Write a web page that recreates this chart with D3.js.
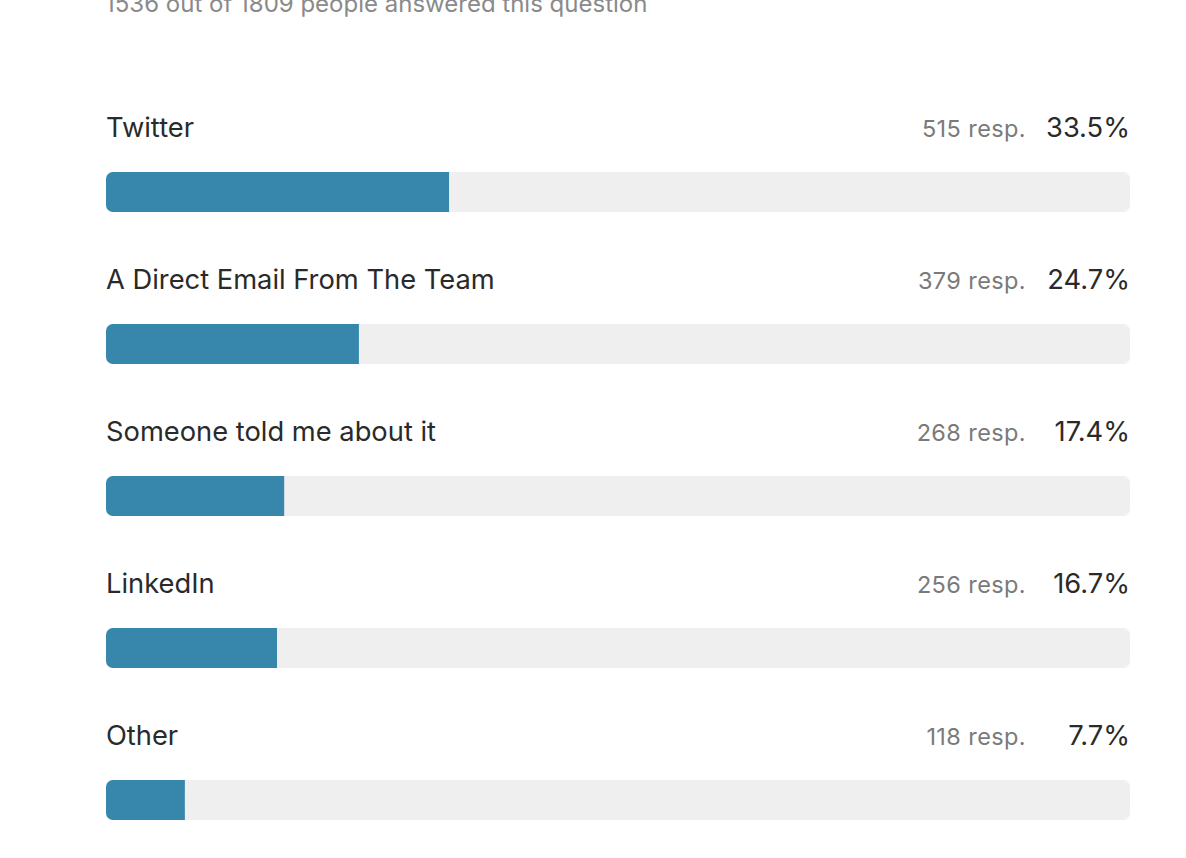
<!DOCTYPE html>
<html><head><meta charset="utf-8">
<script src="https://cdn.jsdelivr.net/npm/d3@7"></script>
<style>html,body{margin:0;padding:0;background:#fff;overflow:hidden}</style>
</head><body>
<svg id="chart" width="1186" height="858"></svg>
<script>
const categories = ["Twitter","A Direct Email From The Team","Someone told me about it","LinkedIn","Other"];
const responses = [515,379,268,256,118];
const percents = [33.5,24.7,17.4,16.7,7.7];
const subtitle = "1536 out of 1809 people answered this question";

const svg = d3.select("#chart");
const font = "Inter, 'Noto Sans', sans-serif";
const x = d3.scaleLinear().domain([0,100]).range([106,1130]);
const y = d3.scaleBand().domain(categories).range([96,856]).paddingInner(0).paddingOuter(0);

svg.append("text").attr("x",105).attr("y",12).attr("font-family",font).attr("font-size",24)
  .attr("fill","#8a8a8a").text(subtitle);

const rows = svg.selectAll("g.row").data(categories).join("g").attr("class","row")
  .attr("transform",d=>`translate(0,${y(d)})`);

rows.append("text").attr("x",106).attr("y",41).attr("font-family",font).attr("font-size",27.3)
  .attr("fill","#2a2a2a").text(d=>d);
rows.append("text").attr("x",1026).attr("y",41).attr("text-anchor","end").attr("font-family",font)
  .attr("font-size",23.5).attr("letter-spacing",0.4).attr("fill","#7a7a7a").text((d,i)=>responses[i]+" resp.");
rows.append("text").attr("x",1130).attr("y",41).attr("text-anchor","end").attr("font-family",font)
  .attr("font-size",27.3).attr("fill","#2a2a2a").text((d,i)=>percents[i].toFixed(1)+"%");

const bh = 40, by = 76, r = 7;
rows.append("rect").attr("x",x(0)).attr("y",by).attr("width",x(100)-x(0)).attr("height",bh)
  .attr("rx",r).attr("fill","#efefef");
rows.append("path").attr("fill","#3786ab").attr("d",(d,i)=>{
  const x0=x(0), x1=x(percents[i]);
  return `M${x0+r},${by} H${x1} V${by+bh} H${x0+r} A${r},${r} 0 0 1 ${x0},${by+bh-r} V${by+r} A${r},${r} 0 0 1 ${x0+r},${by} Z`;
});
</script>
</body></html>
